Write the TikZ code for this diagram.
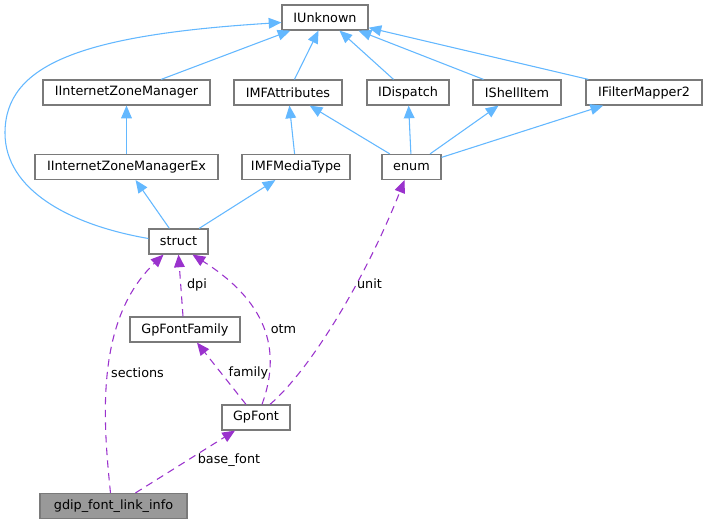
\documentclass[tikz,border=0pt]{standalone}
\usepackage{fontspec}
\setmainfont{DejaVu Sans}
\usetikzlibrary{arrows.meta,calc}

\definecolor{inhblue}{HTML}{63B8FF}
\definecolor{usepurple}{HTML}{9A32CD}
\definecolor{boxgray}{HTML}{7A7A7A}
\definecolor{curgray}{HTML}{999999}

\tikzset{
  cls/.style={draw=boxgray, line width=0.9pt, fill=white, minimum height=18.75pt,
    inner sep=0pt, font=\fontsize{9.6}{11}\selectfont},
  inh/.style={draw=inhblue, line width=0.8pt, -{Triangle[length=9.5pt,width=8pt]}},
  use/.style={draw=usepurple, line width=0.8pt, dash pattern=on 5.5pt off 4pt,
    -{Triangle[length=9.5pt,width=8pt]}},
  lbl/.style={inner sep=0pt, font=\fontsize{9.6}{11}\selectfont}
}

\begin{document}
\begin{tikzpicture}[x=0.75pt,y=-0.75pt]
  \useasboundingbox (0,0) rectangle (707,524);
  \fill[white] (0,0) rectangle (707,524);

  \node[cls, minimum width=64.5pt] (IUnknown) at (325,17.5) {IUnknown};

  \node[cls, minimum width=125.25pt] (IIZM) at (126.5,92.5) {IInternetZoneManager};
  \node[cls, minimum width=81pt] (IMFAttributes) at (288,92.5) {IMFAttributes};
  \node[cls, minimum width=61.5pt] (IDispatch) at (408,92.5) {IDispatch};
  \node[cls, minimum width=66pt] (IShellItem) at (517,92.5) {IShellItem};
  \node[cls, minimum width=87pt] (IFilterMapper2) at (644,92.5) {IFilterMapper2};

  \node[cls, minimum width=137.25pt] (IIZMEx) at (126.5,167) {IInternetZoneManagerEx};
  \node[cls, minimum width=81pt] (IMFMediaType) at (296,167) {IMFMediaType};
  \node[cls, minimum width=44.25pt] (enum) at (411.5,167) {enum};

  \node[cls, minimum width=44.25pt] (struct) at (178.5,241.5) {struct};
  \node[cls, minimum width=82.5pt] (GpFontFamily) at (185,329.5) {GpFontFamily};
  \node[cls, minimum width=51pt] (GpFont) at (256,417.5) {GpFont};
  \node[cls, minimum width=110.25pt, fill=curgray] (gdip) at (113.5,506) {gdip\_font\_link\_info};

  % inheritance
  \draw[inh] ($(struct.west)+(0,-3)$) .. controls (70,225) and (5,190) .. (5,133)
    .. controls (5,65) and (80,35) .. ($(IUnknown.west)+(0,5)$);
  \draw[inh] (IIZM) -- (IUnknown);
  \draw[inh] (IMFAttributes) -- (IUnknown);
  \draw[inh] (IDispatch) -- (IUnknown);
  \draw[inh] (IShellItem) -- (IUnknown);
  \draw[inh] (IFilterMapper2) -- (IUnknown);
  \draw[inh] (IIZMEx) -- (IIZM);
  \draw[inh] (struct) -- (IIZMEx);
  \draw[inh] (struct) -- (IMFMediaType);
  \draw[inh] (IMFMediaType) -- (IMFAttributes);
  \draw[inh] (enum) -- (IMFAttributes);
  \draw[inh] (enum) -- (IDispatch);
  \draw[inh] (enum) -- (IShellItem);
  \draw[inh] (enum) -- (IFilterMapper2);

  % members
  \draw[use] ($(gdip.north)+(-3,0)$) .. controls (103,420) and (95,320) .. ($(struct.south)+(-15,0)$);
  \draw[use] ($(GpFontFamily.north)+(-2,0)$) -- (struct.south);
  \draw[use] ($(GpFont.north)+(6,0)$) .. controls (280,355) and (272,305) .. ($(struct.south)+(14,0)$);
  \draw[use] ($(GpFont.north)+(-10,0)$) -- ($(GpFontFamily.south)+(12,0)$);
  \draw[use] ($(GpFont.north)+(14,0)$) .. controls (310,370) and (365,280) .. ($(enum.south)+(-7,0)$);
  \draw[use] ($(gdip.north)+(22,0)$) -- ($(GpFont.south)+(-21,0)$);

  \node[lbl] (lsections) at (137.5,373) {sections};
  \node[lbl] (ldpi) at (197,285) {dpi};
  \node[lbl] (lotm) at (283.5,329) {otm};
  \node[lbl] (lfamily) at (248.5,373) {family};
  \node[lbl] (lunit) at (369.5,284) {unit};
  \node[lbl] (lbase) at (229,460) {base\_font};
\end{tikzpicture}
\end{document}
